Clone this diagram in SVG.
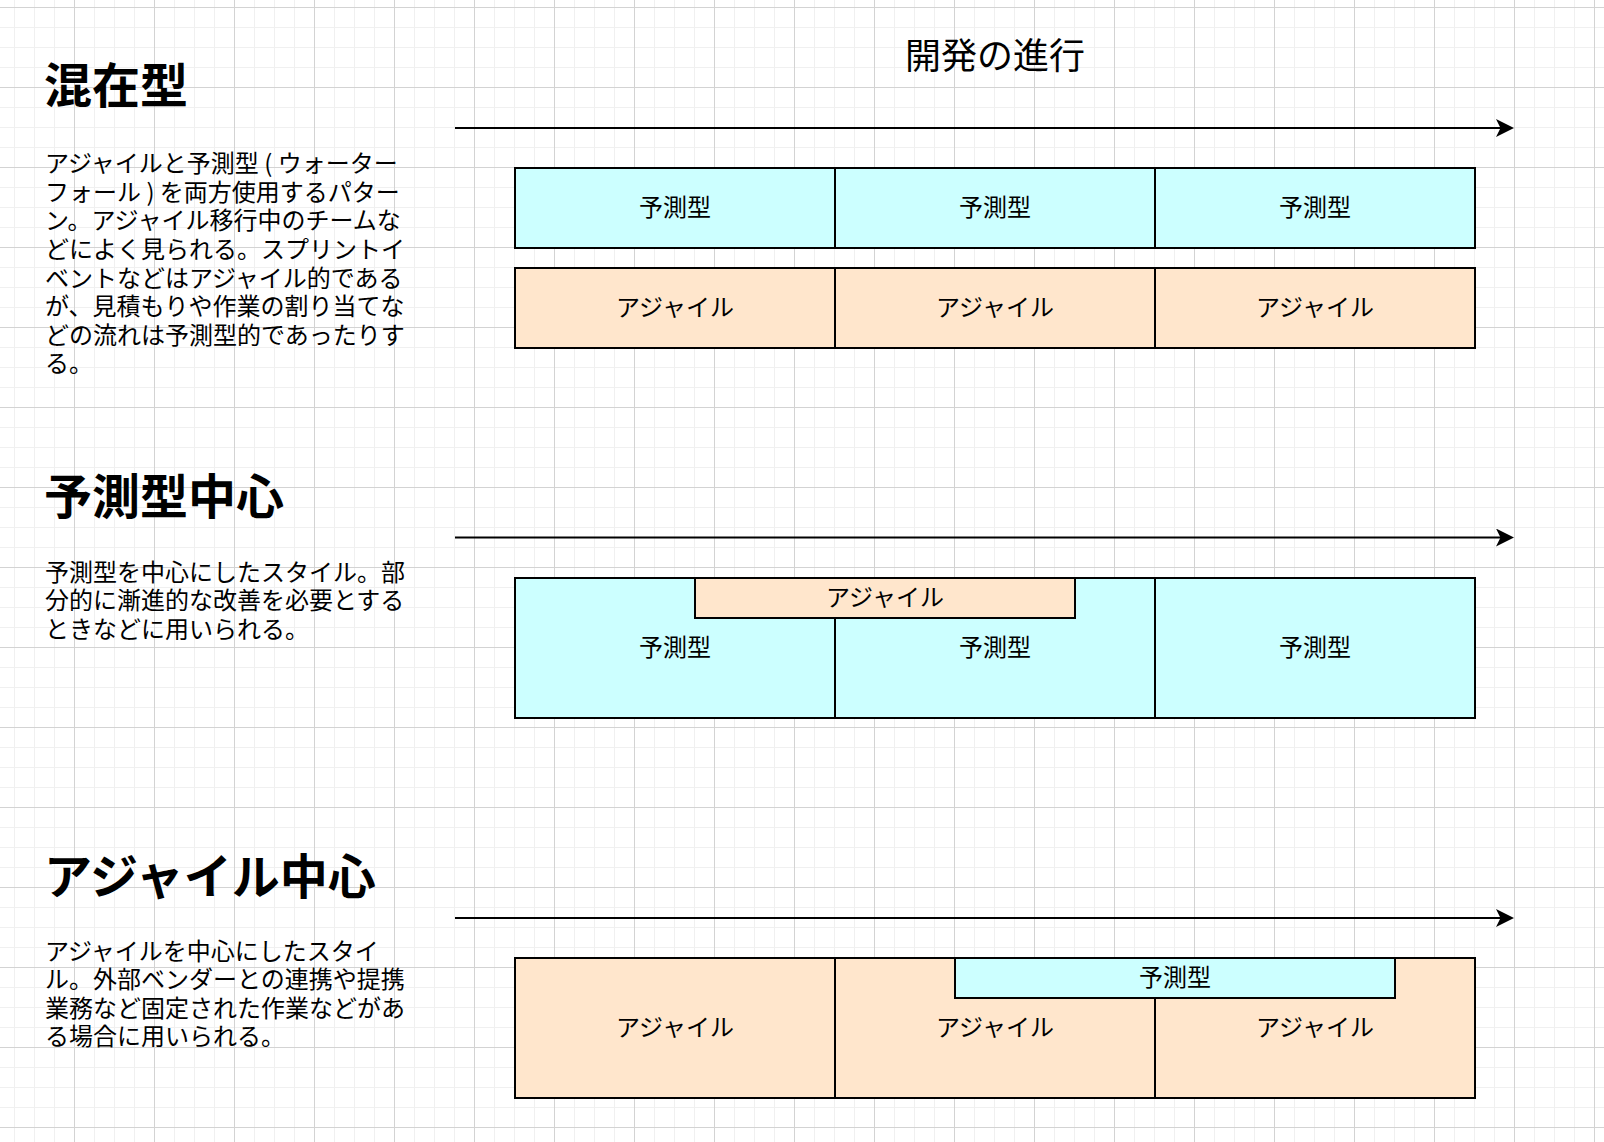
<svg xmlns="http://www.w3.org/2000/svg" width="1604" height="1142" viewBox="0 0 1604 1142">
<defs>
<pattern id="grid" patternUnits="userSpaceOnUse" x="0" y="0" width="80" height="80">
<g stroke="#f0f0f0" stroke-width="1">
<line x1="14.5" y1="0" x2="14.5" y2="80"/><line x1="34.5" y1="0" x2="34.5" y2="80"/><line x1="54.5" y1="0" x2="54.5" y2="80"/>
<line x1="0" y1="27.5" x2="80" y2="27.5"/><line x1="0" y1="47.5" x2="80" y2="47.5"/><line x1="0" y1="67.5" x2="80" y2="67.5"/>
</g>
<g stroke="#d3d3d3" stroke-width="1">
<line x1="74.5" y1="0" x2="74.5" y2="80"/>
<line x1="0" y1="7.5" x2="80" y2="7.5"/>
</g>
</pattern>
<marker id="arrow" markerUnits="userSpaceOnUse" markerWidth="20" markerHeight="20" refX="9" refY="9" orient="auto">
<path d="M0,0 L18,9 L0,18 L4.5,9 Z" fill="#000"/>
</marker>
<style>
.txt{font-family:"Noto Sans CJK JP","Noto Sans",sans-serif;fill:#000}
.h{font-size:48px;font-weight:bold}
.body{font-size:24px}
.lbl{font-size:24px;text-anchor:middle}
.title{font-size:36px;text-anchor:middle}
.pred{fill:#ccffff;stroke:#000;stroke-width:2}
.agile{fill:#ffe6cc;stroke:#000;stroke-width:2}
.conn{stroke:#000;stroke-width:2;fill:none}
</style>
</defs>
<rect width="1604" height="1142" fill="#ffffff"/>
<rect width="1604" height="1142" fill="url(#grid)"/>

<g id="title"><text class="txt title" x="995" y="69">開発の進行</text></g>

<g id="heading-mixed"><text class="txt h" x="44" y="103">混在型</text></g>
<g id="desc-mixed"><text class="txt body">
<tspan x="45" y="172.2">アジャイルと予測型 ( ウォーター</tspan>
<tspan x="45" y="200.8">フォール ) を両方使用するパター</tspan>
<tspan x="45" y="229.4">ン。アジャイル移行中のチームな</tspan>
<tspan x="45" y="257.9">どによく見られる。スプリントイ</tspan>
<tspan x="45" y="286.5">ベントなどはアジャイル的である</tspan>
<tspan x="45" y="315.1">が、見積もりや作業の割り当てな</tspan>
<tspan x="45" y="343.6">どの流れは予測型的であったりす</tspan>
<tspan x="45" y="372.2">る。</tspan>
</text></g>

<g id="heading-pred"><text class="txt h" x="44" y="513.6">予測型中心</text></g>
<g id="desc-pred"><text class="txt body">
<tspan x="45" y="580.6">予測型を中心にしたスタイル。部</tspan>
<tspan x="45" y="609.2">分的に漸進的な改善を必要とする</tspan>
<tspan x="45" y="637.7">ときなどに用いられる。</tspan>
</text></g>

<g id="heading-agile"><text class="txt h" x="44" y="893.6">アジャイル中心</text></g>
<g id="desc-agile"><text class="txt body">
<tspan x="45" y="959.7">アジャイルを中心にしたスタイ</tspan>
<tspan x="45" y="988.3">ル。外部ベンダーとの連携や提携</tspan>
<tspan x="45" y="1016.9">業務など固定された作業などがあ</tspan>
<tspan x="45" y="1045.4">る場合に用いられる。</tspan>
</text></g>

<g id="connectors">
<line class="conn" x1="455" y1="128" x2="1505" y2="128" marker-end="url(#arrow)"/>
<line class="conn" x1="455" y1="537.5" x2="1505" y2="537.5" marker-end="url(#arrow)"/>
<line class="conn" x1="455" y1="918" x2="1505" y2="918" marker-end="url(#arrow)"/>
</g>

<!-- Section 1 -->
<g id="s1-pred-1"><rect class="pred" x="515" y="168" width="320" height="80"/><text class="txt lbl" x="675" y="216">予測型</text></g>
<g id="s1-pred-2"><rect class="pred" x="835" y="168" width="320" height="80"/><text class="txt lbl" x="995" y="216">予測型</text></g>
<g id="s1-pred-3"><rect class="pred" x="1155" y="168" width="320" height="80"/><text class="txt lbl" x="1315" y="216">予測型</text></g>
<g id="s1-agile-1"><rect class="agile" x="515" y="268" width="320" height="80"/><text class="txt lbl" x="675" y="316">アジャイル</text></g>
<g id="s1-agile-2"><rect class="agile" x="835" y="268" width="320" height="80"/><text class="txt lbl" x="995" y="316">アジャイル</text></g>
<g id="s1-agile-3"><rect class="agile" x="1155" y="268" width="320" height="80"/><text class="txt lbl" x="1315" y="316">アジャイル</text></g>

<!-- Section 2 -->
<g id="s2-pred-1"><rect class="pred" x="515" y="578" width="320" height="140"/><text class="txt lbl" x="675" y="656">予測型</text></g>
<g id="s2-pred-2"><rect class="pred" x="835" y="578" width="320" height="140"/><text class="txt lbl" x="995" y="656">予測型</text></g>
<g id="s2-pred-3"><rect class="pred" x="1155" y="578" width="320" height="140"/><text class="txt lbl" x="1315" y="656">予測型</text></g>
<g id="s2-agile-overlay"><rect class="agile" x="695" y="578" width="380" height="40"/><text class="txt lbl" x="885" y="606">アジャイル</text></g>

<!-- Section 3 -->
<g id="s3-agile-1"><rect class="agile" x="515" y="958" width="320" height="140"/><text class="txt lbl" x="675" y="1036">アジャイル</text></g>
<g id="s3-agile-2"><rect class="agile" x="835" y="958" width="320" height="140"/><text class="txt lbl" x="995" y="1036">アジャイル</text></g>
<g id="s3-agile-3"><rect class="agile" x="1155" y="958" width="320" height="140"/><text class="txt lbl" x="1315" y="1036">アジャイル</text></g>
<g id="s3-pred-overlay"><rect class="pred" x="955" y="958" width="440" height="40"/><text class="txt lbl" x="1175" y="986">予測型</text></g>
</svg>
